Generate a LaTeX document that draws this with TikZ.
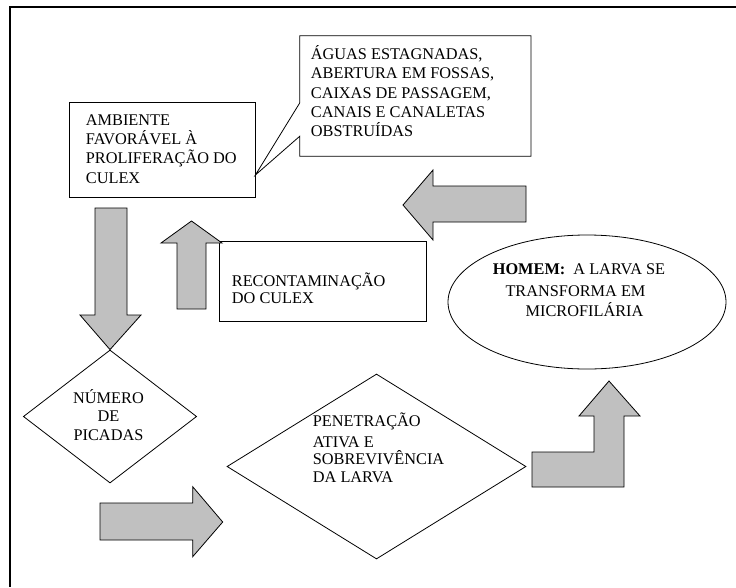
\documentclass[tikz,border=0pt]{standalone}
\usepackage{fontspec}
\setmainfont{Liberation Serif}
\usetikzlibrary{shapes.geometric,calc}
\definecolor{blockgray}{RGB}{192,192,192}
\tikzset{
  txt/.style={inner sep=0pt, font=\fontsize{16.3}{19}\selectfont},
  box/.style={draw, line width=0.8pt, fill=white, inner sep=0pt},
  blockarrow/.style={draw, line width=0.8pt, fill=blockgray, line join=miter},
}
\begin{document}
\begin{tikzpicture}[x=1pt,y=-1pt]
\useasboundingbox[fill=white] (0,0) rectangle (736,587);
% frame (top and left only)
\draw[line width=1.6pt] (736,7) -- (10,7) -- (10,587);

% ambiente box
\node[box, minimum width=186pt, minimum height=95pt] (amb) at (162,149.5) {};
\node[txt, anchor=base west] (amb1) at (85.7,125) {AMBIENTE};
\node[txt, anchor=base west] (amb2) at (85.7,144.4) {FAVORÁVEL À};
\node[txt, anchor=base west] (amb3) at (85.7,163.6) {PROLIFERAÇÃO DO};
\node[txt, anchor=base west] (amb4) at (85.7,183.6) {CULEX};

% callout
\node[minimum width=230.7pt, minimum height=120pt, inner sep=0pt] (callout) at (415.35,96) {};
\coordinate (tip) at ($(amb.east)+(0,25.5)$);
\draw[line width=0.8pt, fill=white] (callout.north west) -- (callout.north east) -- (callout.south east) -- (callout.south west) -- ($(callout.south west)+(0,-20)$) -- (tip) -- ($(callout.north west)+(0,67)$) -- cycle;
\node[txt, anchor=base west] (c1) at (310.7,59.5) {ÁGUAS ESTAGNADAS,};
\node[txt, anchor=base west] (c2) at (310.7,78.5) {ABERTURA EM FOSSAS,};
\node[txt, anchor=base west] (c3) at (310.7,98) {CAIXAS DE PASSAGEM,};
\node[txt, anchor=base west] (c4) at (310.7,117.5) {CANAIS E CANALETAS};
\node[txt, anchor=base west] (c5) at (310.7,136) {OBSTRUÍDAS};

% recontaminacao box
\node[box, minimum width=207.7pt, minimum height=80pt] (reco) at (322.85,281.7) {};
\node[txt, anchor=base west] (r1) at (231.7,286) {RECONTAMINAÇÃO};
\node[txt, anchor=base west] (r2) at (231.7,303) {DO CULEX};

% ellipse
\node[ellipse, draw, line width=0.8pt, minimum width=278pt, minimum height=134pt, inner sep=0pt] (homem) at (587,302) {};
\node[txt, anchor=base] (h1) at (579,274.5) {\textbf{HOMEM:} \ A LARVA SE};
\node[txt, anchor=base] (h2) at (575.5,296) {TRANSFORMA EM};
\node[txt, anchor=base] (h3) at (584.5,316.8) {MICROFILÁRIA};

% diamond 1
\node[diamond, draw, line width=0.8pt, minimum width=173.3pt, minimum height=133pt, inner sep=0pt] (d1) at (110,416.5) {};
\node[txt, anchor=base] (n1) at (108.5,403.5) {NÚMERO};
\node[txt, anchor=base] (n2) at (108.5,421.5) {DE};
\node[txt, anchor=base] (n3) at (108.5,440) {PICADAS};

% diamond 2
\node[diamond, draw, line width=0.8pt, minimum width=299pt, minimum height=185pt, inner sep=0pt] (d2) at (376.5,466.5) {};
\node[txt, anchor=base west] (p1) at (312.7,426) {PENETRAÇÃO};
\node[txt, anchor=base west] (p2) at (312.7,447) {ATIVA E};
\node[txt, anchor=base west] (p3) at (312.7,464) {SOBREVIVÊNCIA};
\node[txt, anchor=base west] (p4) at (312.7,482) {DA LARVA};

% block arrows
% down arrow (ambiente -> numero de picadas)
\draw[blockarrow] (95,208) -- (127,208) -- (127,315) -- (141,315) -- (d1.north) -- (80,315) -- (95,315) -- cycle;
% up arrow (recontaminacao)
\draw[blockarrow] (177,309) -- (177,243) -- (161,243) -- (191.5,221) -- (222,243) -- (206,243) -- (206,309) -- cycle;
% left arrow (top right)
\draw[blockarrow] (526,186) -- (433,186) -- (433,170) -- (403,205) -- (433,240) -- (433,222) -- (526,222) -- cycle;
% right arrow (bottom)
\draw[blockarrow] (100,503) -- (192.7,503) -- (192.7,486.7) -- (222.7,522) -- (192.7,556.7) -- (192.7,540) -- (100,540) -- cycle;
% bent up arrow
\draw[blockarrow] (532,452) -- (594,452) -- (594,416) -- (579,416) -- (609,381) -- (640,416) -- (624,416) -- (624,487) -- (532,487) -- cycle;
\end{tikzpicture}
\end{document}
